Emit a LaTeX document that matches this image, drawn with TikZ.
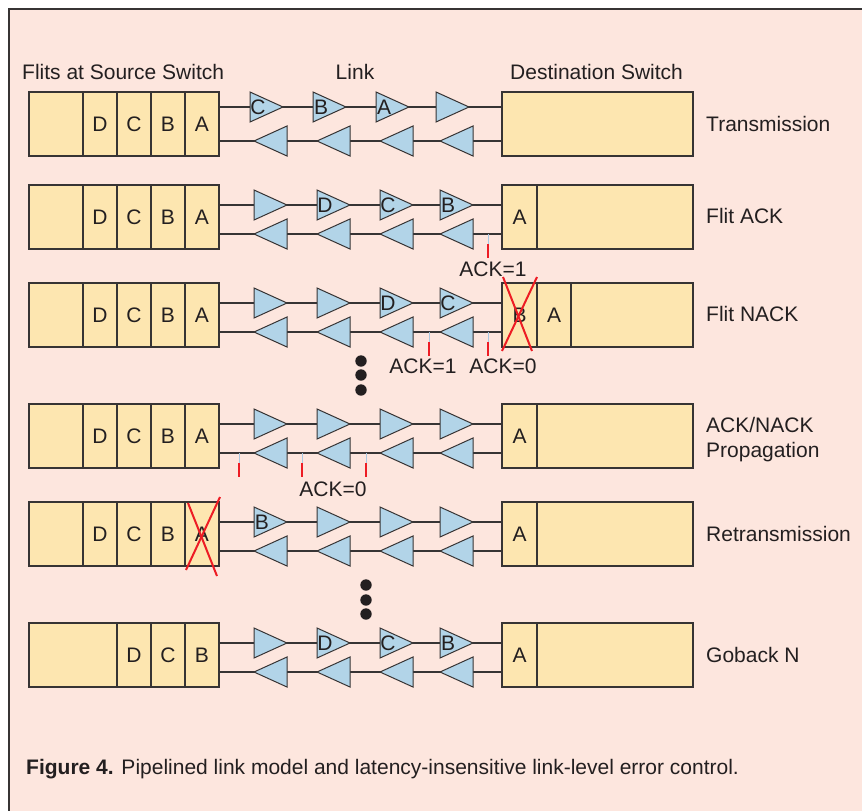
\documentclass[tikz,border=0pt]{standalone}
\usepackage{fontspec}
\setmainfont{Liberation Sans}
\usetikzlibrary{positioning,calc}

\definecolor{panelpink}{RGB}{253,230,222}
\definecolor{flitfill}{RGB}{253,230,176}
\definecolor{bufblue}{RGB}{178,212,232}
\definecolor{linegray}{RGB}{55,52,52}
\definecolor{inkdark}{RGB}{35,31,32}
\definecolor{ackred}{RGB}{237,28,36}
\definecolor{ackhint}{RGB}{170,200,225}

\begin{document}
\begin{tikzpicture}[x=1pt,y=-1pt,
  every node/.style={font=\fontsize{21}{25}\selectfont,text=inkdark,inner sep=0pt},
  cell/.style={draw=linegray,fill=flitfill,line width=1.2pt,minimum width=34pt,minimum height=64pt,outer sep=0pt,anchor=north west},
  wire/.style={draw=linegray,line width=1.2pt},
  buf/.style={draw=linegray,fill=bufblue,line width=1pt,line join=miter},
  tickhint/.style={draw=ackhint,line width=1pt},
  tickred/.style={draw=ackred,line width=2.2pt},
  cross/.style={draw=ackred,line width=2pt},
  rowlabel/.style={anchor=base west}]
\useasboundingbox (0,0) rectangle (862,811);
\fill[white] (0,0) rectangle (862,811);
\fill[panelpink] (9,9) rectangle (862,811);
\draw[linegray,line width=1.5pt] (862,9) -- (9,9) -- (9,811);

% headings
\node[anchor=base west] (srchead) at (22,79) {Flits at Source Switch};
\node[anchor=base] (linkhead) at (355,79) {Link};
\node[anchor=base west] (dsthead) at (510,79) {Destination Switch};

% source switch buffers
\foreach \r/\y in {1/92,2/185,3/283,4/404,5/502}{
  \node[cell,minimum width=54pt] (s\r0) at (29,\y) {};
  \node[cell,right=0pt of s\r0] (s\r1) {D};
  \node[cell,right=0pt of s\r1] (s\r2) {C};
  \node[cell,right=0pt of s\r2] (s\r3) {B};
  \node[cell,right=0pt of s\r3] (s\r4) {A};
}
\node[cell,minimum width=88pt] (s60) at (29,623) {};
\node[cell,right=0pt of s60] (s61) {D};
\node[cell,right=0pt of s61] (s62) {C};
\node[cell,right=0pt of s62] (s64) {B};

% destination switch buffers
\node[cell,minimum width=191pt] (d10) at (502,92) {};
\foreach \r/\y in {2/185,4/404,5/502,6/623}{
  \node[cell,minimum width=35pt] (d\r0) at (502,\y) {A};
  \node[cell,minimum width=156pt,right=0pt of d\r0] (d\r1) {};
}
\node[cell,minimum width=35pt] (d30) at (502,283) {B};
\node[cell,right=0pt of d30] (d31) {A};
\node[cell,minimum width=122pt,right=0pt of d31] (d32) {};

% link wires and pipeline buffers
\foreach \r/\y/\w/\dx in {1/92/15/-4,2/185/20/0,3/283/20/0,4/404/20/0,5/502/20/0,6/623/20/0}{
  \draw[wire] ($(s\r4.north east)+(0,\w)$) -- ($(d\r0.north west)+(0,\w)$);
  \draw[wire] ($(s\r4.south east)+(0,-15)$) -- ($(d\r0.south west)+(0,-15)$);
  \foreach \t in {254,317,380,440}{
    \draw[buf] (\t+\dx,\y+\w-15) -- ++(33,15) -- ++(-33,15) -- cycle;
    \draw[buf] (\t+33,\y+34) -- ++(-33,15) -- ++(33,15) -- cycle;
  }
}

% flits on the link
\node (f1a) at (258,107) {C};
\node (f1b) at (321,107) {B};
\node (f1c) at (384,107) {A};
\node (f2a) at (325,205) {D};
\node (f2b) at (388,205) {C};
\node (f2c) at (448,205) {B};
\node (f3a) at (388,303) {D};
\node (f3b) at (448,303) {C};
\node (f5a) at (262,522) {B};
\node (f6a) at (325,643) {D};
\node (f6b) at (388,643) {C};
\node (f6c) at (448,643) {B};

% ack signals
\foreach \x/\w in {488/234,429/332,488/332,239/453,302/453,366/453}{
  \draw[tickhint] (\x,\w) -- (\x,\w+10);
  \draw[tickred] (\x,\w+10) -- (\x,\w+24);
}
\node[anchor=base] (ack1) at (493,276) {ACK=1};
\node[anchor=base] (ack2) at (423,373) {ACK=1};
\node[anchor=base] (ack3) at (503,373) {ACK=0};
\node[anchor=base] (ack4) at (333,496) {ACK=0};

% dropped flits
\draw[cross] (503,277) -- (532,351);
\draw[cross] (537,277) -- (502,351);
\draw[cross] (220,497) -- (186,570);
\draw[cross] (188,503) -- (217,576);

% skipped steps
\foreach \y in {361,375,390} \fill[inkdark] (361,\y) circle (5.7pt);
\foreach \y in {585,600,614} \fill[inkdark] (366,\y) circle (5.7pt);

% row labels
\node[rowlabel] (lab1) at (706,131) {Transmission};
\node[rowlabel] (lab2) at (706,223) {Flit ACK};
\node[rowlabel] (lab3) at (706,321) {Flit NACK};
\node[anchor=north west,align=left] (lab4) at (706,417) {ACK/NACK\\Propagation};
\node[rowlabel] (lab5) at (706,541) {Retransmission};
\node[rowlabel] (lab6) at (706,662) {Goback N};

% caption
\node[anchor=base west] (caption) at (26,774) {\textbf{Figure 4.} Pipelined link model and latency-insensitive link-level error control.};
\end{tikzpicture}
\end{document}
